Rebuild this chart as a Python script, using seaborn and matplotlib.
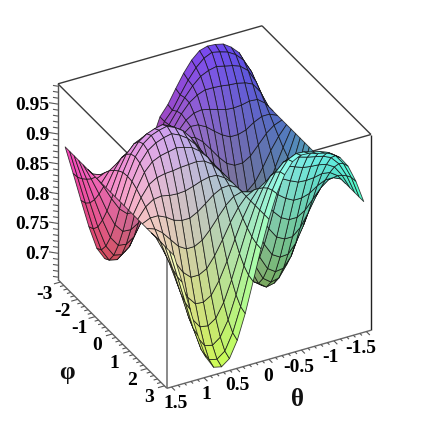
import numpy as np
import matplotlib
matplotlib.use("Agg")
import matplotlib.pyplot as plt
import seaborn as sns
from mpl_toolkits.mplot3d import proj3d

theta_values = [-1.46, -1.338, -1.217, -1.095, -0.973, -0.852, -0.730, -0.608, -0.487, -0.365, -0.243, -0.122, 0.0,
                0.122, 0.243, 0.365, 0.487, 0.608, 0.730, 0.852, 0.973, 1.095, 1.217, 1.338, 1.46]
phi_values = [-3.142, -2.880, -2.618, -2.356, -2.094, -1.833, -1.571, -1.309, -1.047, -0.785, -0.524, -0.262, 0.0,
              0.262, 0.524, 0.785, 1.047, 1.309, 1.571, 1.833, 2.094, 2.356, 2.618, 2.880, 3.142]
surface_z = [
    [.890,.885,.880]+[.875]*22,
    [.925,.922,.913,.903,.892,.881,.870,.859,.848,.840,.833,.828,.827,.828,.833,.840,.848,.859,.870,.881,.892,.900,.907,.912,.913],
    [.950,.945,.935,.920,.902,.881,.860,.839,.819,.802,.789,.781,.778,.781,.789,.802,.819,.839,.860,.881,.901,.918,.931,.939,.942],
    [.963,.958,.946,.926,.903,.875,.845,.815,.787,.764,.745,.734,.730,.734,.745,.764,.787,.815,.845,.875,.903,.926,.945,.956,.960],
    [.972,.966,.951,.929,.900,.866,.830,.794,.760,.731,.709,.695,.690,.695,.709,.731,.760,.794,.830,.866,.900,.929,.951,.965,.970],
    [.975,.970,.954,.930,.899,.862,.822,.782,.745,.714,.690,.674,.669,.674,.690,.714,.745,.782,.822,.862,.899,.930,.954,.970,.975],
    [.976,.973,.957,.932,.900,.862,.822,.782,.744,.712,.687,.671,.666,.671,.687,.712,.744,.782,.822,.862,.900,.932,.957,.973,.978],
    [.972,.967,.954,.933,.904,.869,.829,.789,.752,.721,.697,.681,.676,.681,.697,.721,.752,.789,.829,.869,.906,.937,.961,.977,.982],
    [.960,.955,.948,.933,.908,.879,.843,.807,.773,.744,.722,.708,.703,.708,.722,.744,.773,.807,.843,.879,.913,.942,.964,.978,.983],
    [.942,.938,.936,.928,.911,.890,.860,.830,.802,.778,.760,.748,.744,.748,.760,.778,.802,.830,.860,.890,.918,.942,.960,.972,.976],
    [.920,.917,.920,.919,.909,.897,.876,.855,.835,.818,.805,.797,.794,.797,.805,.818,.835,.855,.876,.897,.917,.934,.947,.955,.958],
    [.897,.895,.901,.904,.901,.898,.887,.876,.866,.857,.850,.846,.845,.846,.850,.857,.866,.876,.887,.898,.908,.917,.924,.928,.930],
    [.880,.880,.882,.884,.886,.888,.891,.891,.891,.891,.891,.891,.891,.891,.891,.891,.891,.891,.891,.891,.891,.891,.891,.891,.891],
    [.845,.846,.850,.857,.866,.876,.887,.898,.903,.907,.906,.903,.905,.903,.906,.907,.903,.898,.887,.876,.866,.857,.850,.846,.845],
    [.794,.797,.805,.818,.835,.855,.876,.897,.911,.922,.926,.925,.928,.925,.926,.922,.911,.897,.876,.855,.835,.818,.805,.797,.794],
    [.744,.748,.760,.778,.802,.830,.860,.890,.912,.931,.940,.944,.948,.944,.940,.931,.912,.890,.860,.830,.802,.778,.760,.748,.744],
    [.703,.708,.722,.744,.773,.807,.843,.879,.909,.934,.950,.958,.963,.958,.950,.934,.909,.879,.843,.807,.773,.744,.722,.708,.703],
    [.676,.681,.697,.721,.752,.789,.829,.869,.904,.933,.954,.967,.972,.967,.954,.933,.904,.869,.829,.789,.752,.721,.697,.681,.676],
    [.666,.671,.687,.712,.744,.782,.822,.862,.900,.932,.957,.973,.978,.973,.957,.932,.900,.862,.822,.782,.744,.712,.687,.671,.666],
    [.669,.674,.690,.714,.745,.782,.822,.862,.899,.930,.954,.970,.975,.970,.954,.930,.899,.862,.822,.782,.745,.714,.690,.674,.669],
    [.690,.695,.709,.731,.760,.794,.830,.866,.900,.929,.951,.965,.970,.965,.951,.929,.900,.866,.830,.794,.760,.731,.709,.695,.690],
    [.730,.734,.745,.764,.787,.815,.845,.875,.903,.926,.945,.956,.960,.956,.945,.926,.903,.875,.845,.815,.787,.764,.745,.734,.730],
    [.778,.781,.789,.802,.819,.839,.860,.881,.901,.918,.931,.939,.942,.939,.931,.918,.901,.881,.860,.839,.819,.802,.789,.781,.778],
    [.827,.828,.833,.840,.848,.859,.870,.881,.892,.900,.907,.912,.913,.912,.907,.900,.892,.881,.870,.859,.848,.840,.833,.828,.827],
    [.875]*25,
]
z_major = [0.7, 0.75, 0.8, 0.85, 0.9, 0.95]
z_major_labels = ["0.7", "0.75", "0.8", "0.85", "0.9", "0.95"]
phi_major = [-3, -2, -1, 0, 1, 2, 3]
phi_major_labels = ["-3", "-2", "-1", "0", "1", "2", "3"]
theta_major = [1.5, 1, 0.5, 0, -0.5, -1, -1.5]
theta_major_labels = ["1.5", "1", "0.5", "0", "-0.5", "-1", "-1.5"]

sns.set_theme(style="white")
plt.rcParams["font.family"] = ["Liberation Serif", "DejaVu Serif"]

W, H = 426, 432
fig = plt.figure(figsize=(W / 100, H / 100), dpi=100)
ax = fig.add_axes([-4.3 / W, 6.2 / H, 1, 426 / H], projection="3d", computed_zorder=False)
ax.set_proj_type("ortho")
TMIN, TMAX = -np.pi / 2, np.pi / 2
PMIN, PMAX = -np.pi, np.pi
ZMIN, ZMAX = 0.656, 0.984
ax.set_xlim(TMIN, TMAX, view_margin=0)
ax.set_ylim(PMIN, PMAX, view_margin=0)
ax.set_zlim(ZMIN, ZMAX, view_margin=0)
ax.set_box_aspect((1, 1, 1), zoom=0.913)
ax.view_init(elev=32.2, azim=61.9)
ax.set_axis_off()

T, P = np.meshgrid(theta_values, phi_values, indexing="ij")
Z = np.array(surface_z)

tc = (T[:-1, :-1] + T[1:, 1:]) / 2
pc = (P[:-1, :-1] + P[1:, 1:]) / 2
zc = (Z[:-1, :-1] + Z[1:, 1:] + Z[1:, :-1] + Z[:-1, 1:]) / 4
colors = np.dstack([
    0.30 + 0.70 * ((tc - TMIN) / (TMAX - TMIN)) ** 1.1,
    0.28 + 0.72 * ((pc - PMIN) / (PMAX - PMIN)) ** 1.1,
    0.30 + 0.65 * ((zc - ZMIN) / (ZMAX - ZMIN)) ** 0.85,
    np.ones_like(tc),
])
ax.plot_surface(T, P, Z, facecolors=colors, rstride=1, cstride=1, shade=False,
                linewidth=0.6, edgecolor=(0.06, 0.06, 0.06, 0.8), antialiased=True, zorder=3)

dark = "#3a3a3a"
grey = "#8a8a8a"
def seg(a, b, c=dark, lw=1.0):
    ax.plot([a[0], b[0]], [a[1], b[1]], [a[2], b[2]], color=c, lw=lw, zorder=1, solid_capstyle="butt")

# box edges: drawn behind the surface
seg((TMAX, PMIN, ZMAX), (TMIN, PMIN, ZMAX))
seg((TMIN, PMIN, ZMAX), (TMIN, PMAX, ZMAX))
seg((TMAX, PMIN, ZMAX), (TMAX, PMAX, ZMAX))
seg((TMIN, PMAX, ZMAX), (TMAX, PMAX, ZMAX))
seg((TMAX, PMIN, ZMIN), (TMAX, PMIN, ZMAX), c="#555555")
seg((TMIN, PMAX, ZMIN), (TMIN, PMAX, ZMAX), c="#222222")
seg((TMAX, PMAX, ZMIN), (TMAX, PMAX, ZMAX), c=grey, lw=1.4)
seg((TMAX, PMIN, ZMIN), (TMAX, PMAX, ZMIN), c="#666666")
seg((TMAX, PMAX, ZMIN), (TMIN, PMAX, ZMIN), c="#666666")

# ticks
for v in np.arange(0.66, 0.985, 0.01):
    major = any(abs(v - m) < 1e-6 for m in z_major)
    seg((TMAX, PMIN, v), (TMAX + (0.09 if major else 0.05), PMIN - (0.18 if major else 0.10), v), c="#555555", lw=0.8)
for v in np.arange(-3.0, 3.01, 0.2):
    major = abs(v - round(v)) < 1e-6
    seg((TMAX, v, ZMIN), (TMAX + (0.10 if major else 0.06), v, ZMIN), c="#555555", lw=0.8)
for v in np.arange(-1.5, 1.51, 0.1):
    major = abs(v * 2 - round(v * 2)) < 1e-6
    seg((v, PMAX, ZMIN), (v, PMAX + (0.20 if major else 0.12), ZMIN), c="#555555", lw=0.8)

M = ax.get_proj()
def note(label, p, dx, dy, ha="center"):
    x2, y2, _ = proj3d.proj_transform(p[0], p[1], p[2], M)
    ax.annotate(label, xy=(x2, y2), xytext=(dx, dy), textcoords="offset pixels",
                ha=ha, va="center", fontsize=14, fontweight="bold", color="black", zorder=10)

for v, lab in zip(z_major, z_major_labels):
    note(lab, (TMAX, PMIN, v), -8.5, -1.5, ha="right")
for v, lab in zip(phi_major, phi_major_labels):
    note(lab, (TMAX, v, ZMIN), -15.5, -12)
for v, lab in zip(theta_major, theta_major_labels):
    s = (TMAX - v) / (TMAX - TMIN)
    note(lab, (v, PMAX, ZMIN), 4 - 9.5 * s, -17)

fig.text(67 / W, 1 - 372 / H, "φ", fontsize=18, fontweight="bold", ha="center", va="center", color="#111111")
fig.text(298 / W, 1 - 400 / H, "θ", fontsize=18, fontweight="bold", ha="center", va="center", color="#111111")

fig.savefig("out.png", dpi=100)
